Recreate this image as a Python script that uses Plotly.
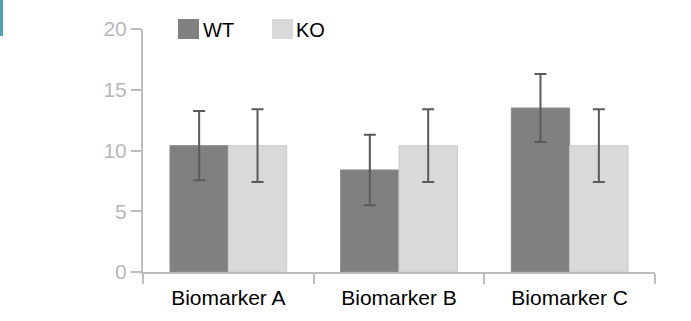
import plotly.graph_objects as go

categories = ["Biomarker A", "Biomarker B", "Biomarker C"]
wt_values = [10.4, 8.4, 13.5]
wt_errors = [2.85, 2.9, 2.8]
ko_values = [10.4, 10.4, 10.4]
ko_errors = [3.0, 3.0, 3.0]
series_names = ["WT", "KO"]
wt_color = "#808080"
ko_color = "#d9d9d9"
y_ticks = [0, 5, 10, 15, 20]

font_family = "Liberation Sans, Arial, sans-serif"
axis_color = "#bdbdbd"
err_color = "#5a5a5a"

fig = go.Figure()
fig.add_trace(go.Bar(
    x=categories, y=wt_values, name=series_names[0],
    marker=dict(color=wt_color, line=dict(color="#8c8c8c", width=1)),
    error_y=dict(type="data", array=wt_errors, color=err_color, thickness=2, width=6),
    showlegend=False,
))
fig.add_trace(go.Bar(
    x=categories, y=ko_values, name=series_names[1],
    marker=dict(color=ko_color, line=dict(color="#cccccc", width=1)),
    error_y=dict(type="data", array=ko_errors, color=err_color, thickness=2, width=6),
    showlegend=False,
))

L, R, T, B = 143, 36, 29, 49
W, H = 691, 321
pw, ph = W - L - R, H - T - B

def px(x):
    return (x - L) / pw

def py(y):
    return (H - B - y) / ph

shapes = [
    # teal decoration in the top-left corner
    dict(type="rect", xref="paper", yref="paper", x0=px(0), x1=px(3), y0=py(36), y1=py(0),
         fillcolor="#4ba3b8", line=dict(width=0), layer="above"),
    # legend swatches
    dict(type="rect", xref="paper", yref="paper", x0=px(178), x1=px(199), y0=py(39), y1=py(19),
         fillcolor=wt_color, line=dict(width=0)),
    dict(type="rect", xref="paper", yref="paper", x0=px(272), x1=px(293), y0=py(39), y1=py(19),
         fillcolor=ko_color, line=dict(width=0)),
]
annotations = [
    dict(text=series_names[0], xref="paper", yref="paper", x=px(201), y=py(30),
         xanchor="left", yanchor="middle", showarrow=False,
         font=dict(family=font_family, size=20, color="#000000")),
    dict(text=series_names[1], xref="paper", yref="paper", x=px(294), y=py(30),
         xanchor="left", yanchor="middle", showarrow=False,
         font=dict(family=font_family, size=20, color="#000000")),
]

fig.update_layout(
    width=W, height=H,
    margin=dict(l=L, r=R, t=T, b=B, pad=0),
    paper_bgcolor="white", plot_bgcolor="white",
    barmode="group", bargap=0.316, bargroupgap=0,
    font=dict(family=font_family, size=20),
    shapes=shapes, annotations=annotations,
    xaxis=dict(
        showline=True, linecolor=axis_color, linewidth=2,
        ticks="outside", tickson="boundaries", ticklen=10, tickwidth=2, tickcolor=axis_color,
        tickfont=dict(family=font_family, size=21, color="#000000"),
        ticklabelstandoff=6,
        showgrid=False, zeroline=False,
    ),
    yaxis=dict(
        range=[0, 20], tickvals=y_ticks,
        showline=True, linecolor=axis_color, linewidth=2,
        ticks="outside", ticklen=10, tickwidth=2, tickcolor=axis_color,
        tickfont=dict(family=font_family, size=21, color="#b8b8b8"),
        showgrid=False, zeroline=False,
    ),
)

fig.write_html("out.html", config={"displayModeBar": False},
               post_script="document.body.style.margin='0';document.body.style.padding='0';")
